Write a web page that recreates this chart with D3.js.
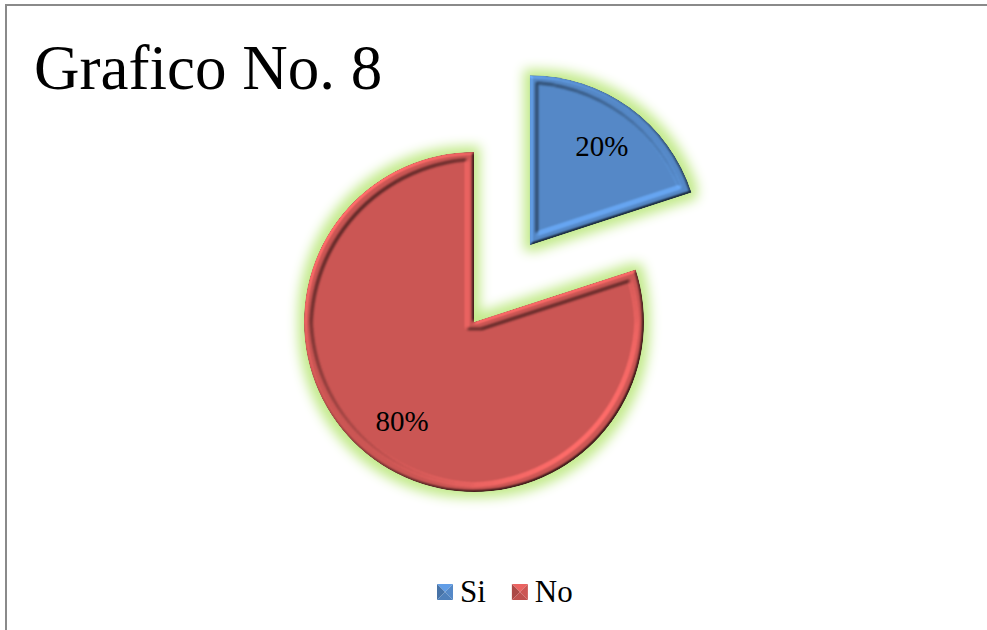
<!DOCTYPE html>
<html>
<head>
<meta charset="utf-8">
<script src="https://cdn.jsdelivr.net/npm/d3@7"></script>
<style>
  html, body { margin: 0; padding: 0; background: #fff; }
  svg { display: block; }
</style>
</head>
<body>
<div id="chart"></div>
<script>
// datos del grafico
const categories = ['Si', 'No'];
const values = [20, 80];
const sliceColors = ['#5589c8', '#cc5654'];
const explodeSlice = [true, false];
const titleText = 'Grafico No. 8';

const width = 987;
const height = 630;
const serif = '"Liberation Serif", "Times New Roman", serif';

const svg = d3.select('#chart')
  .append('svg')
  .attr('width', width)
  .attr('height', height);

const defs = svg.append('defs');

// Filtro: brillo verde + bisel (marco en relieve)
const f = defs.append('filter')
  .attr('id', 'bevel')
  .attr('x', '-25%').attr('y', '-25%')
  .attr('width', '150%').attr('height', '150%')
  .attr('color-interpolation-filters', 'sRGB');

f.append('feGaussianBlur').attr('in', 'SourceAlpha').attr('stdDeviation', 1.8).attr('result', 'a');
f.append('feMorphology').attr('in', 'SourceAlpha').attr('operator', 'erode').attr('radius', 7).attr('result', 'er');
f.append('feGaussianBlur').attr('in', 'er').attr('stdDeviation', 1.5).attr('result', 'b');
f.append('feComposite').attr('in', 'a').attr('in2', 'b').attr('operator', 'arithmetic')
  .attr('k1', 0).attr('k2', 1).attr('k3', -0.5).attr('k4', 0).attr('result', 'h');
const light = f.append('feDiffuseLighting').attr('in', 'h')
  .attr('surfaceScale', 2.8).attr('diffuseConstant', 1)
  .attr('lighting-color', '#ffffff').attr('result', 'lit');
light.append('feDistantLight').attr('azimuth', 225).attr('elevation', 45);
f.append('feComposite').attr('in', 'SourceGraphic').attr('in2', 'lit').attr('operator', 'arithmetic')
  .attr('k1', 0.9).attr('k2', 0.36).attr('k3', 0).attr('k4', 0).attr('result', 'shaded');
f.append('feComposite').attr('in', 'shaded').attr('in2', 'SourceAlpha').attr('operator', 'in').attr('result', 'body');

// glow verde claro
f.append('feMorphology').attr('in', 'SourceAlpha').attr('operator', 'dilate').attr('radius', 6).attr('result', 'dil');
f.append('feGaussianBlur').attr('in', 'dil').attr('stdDeviation', 6).attr('result', 'gb');
f.append('feFlood').attr('flood-color', '#c3ea8c').attr('result', 'gc');
f.append('feComposite').attr('in', 'gc').attr('in2', 'gb').attr('operator', 'in').attr('result', 'glow');
const merge = f.append('feMerge');
merge.append('feMergeNode').attr('in', 'glow');
merge.append('feMergeNode').attr('in', 'body');

// Marco del grafico
svg.append('path')
  .attr('d', `M6,${height} L6,5 L${width},5`)
  .attr('fill', 'none')
  .attr('stroke', '#8a8a8a')
  .attr('stroke-width', 2);

// Titulo
svg.append('text')
  .attr('x', 34)
  .attr('y', 89)
  .attr('font-family', serif)
  .attr('font-size', 63)
  .attr('fill', '#000')
  .text(titleText);

// Pie
const cx = 474, cy = 322, radius = 170, explode = 95;

const pie = d3.pie().sort(null).value(d => d);
const arcs = pie(values);

const arc = d3.arc().innerRadius(0).outerRadius(radius);
const labelArc = d3.arc().innerRadius(radius * 0.72).outerRadius(radius * 0.72);

const g = svg.append('g').attr('transform', `translate(${cx},${cy})`);

const slice = g.selectAll('g.slice')
  .data(arcs)
  .enter()
  .append('g')
  .attr('class', 'slice')
  .attr('transform', (d, i) => {
    if (!explodeSlice[i]) return null;
    const mid = (d.startAngle + d.endAngle) / 2;
    return `translate(${Math.sin(mid) * explode},${-Math.cos(mid) * explode})`;
  });

slice.append('path')
  .attr('d', arc)
  .attr('fill', (d, i) => sliceColors[i])
  .attr('filter', 'url(#bevel)');

const total = d3.sum(values);
slice.append('text')
  .attr('transform', d => `translate(${labelArc.centroid(d)})`)
  .attr('text-anchor', 'middle')
  .attr('dy', '0.35em')
  .attr('font-family', serif)
  .attr('font-size', 29)
  .attr('fill', '#000')
  .text(d => Math.round(d.value / total * 100) + '%');

// Leyenda
const legend = svg.append('g').attr('transform', 'translate(437,592)');
const mk = 16;
let lx = 0;
categories.forEach((c, i) => {
  const item = legend.append('g').attr('transform', `translate(${lx},0)`);
  const col = d3.color(sliceColors[i]);
  const h = mk / 2;
  // marcador tipo piramide
  const faces = [
    { p: [[0, -h], [mk, -h], [h, 0]], c: col.brighter(0.4) },
    { p: [[0, -h], [0, h], [h, 0]], c: col.darker(0.5) },
    { p: [[mk, -h], [mk, h], [h, 0]], c: col },
    { p: [[0, h], [mk, h], [h, 0]], c: col.darker(0.2) }
  ];
  faces.forEach(fc => {
    item.append('path')
      .attr('d', d3.line()(fc.p) + 'Z')
      .attr('fill', fc.c.formatHex());
  });
  const t = item.append('text')
    .attr('x', mk + 7)
    .attr('y', 10)
    .attr('font-family', serif)
    .attr('font-size', 31)
    .attr('fill', '#000')
    .text(c);
  lx += mk + 7 + t.node().getComputedTextLength() + 26;
});
</script>
</body>
</html>
